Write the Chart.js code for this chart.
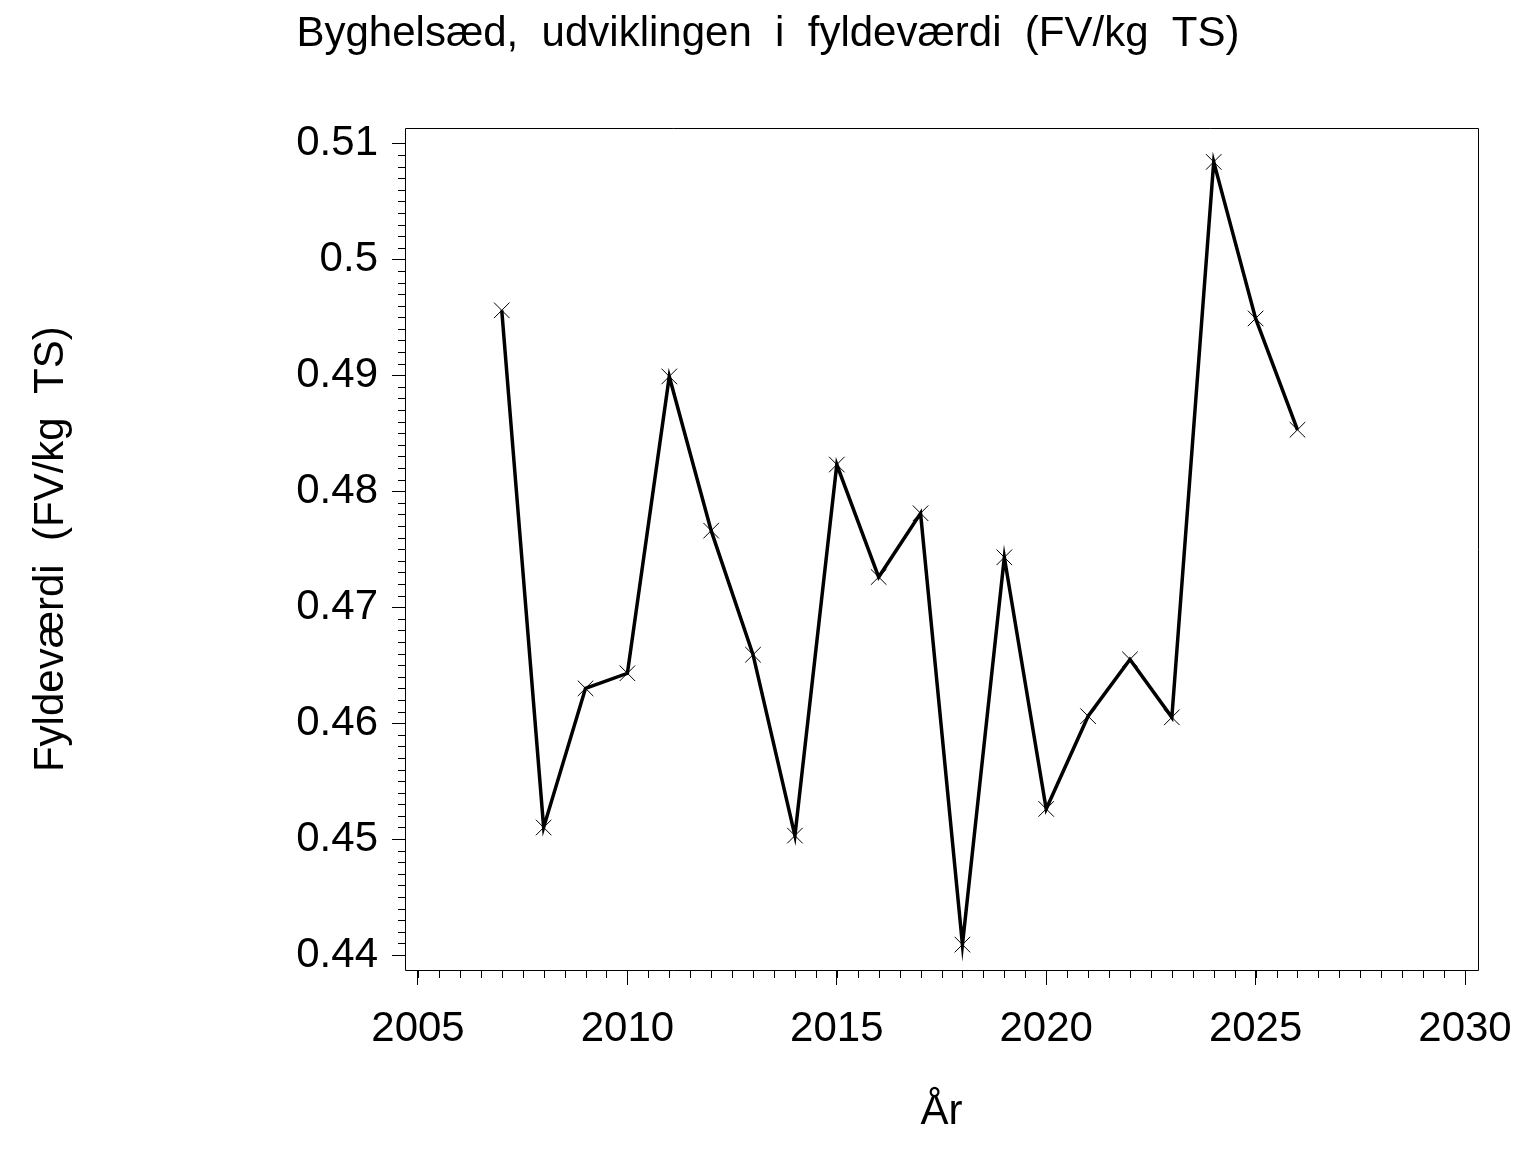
<!DOCTYPE html>
<html>
<head>
<meta charset="utf-8">
<title>Byghelsæd, udviklingen i fyldeværdi</title>
<script src="https://cdn.jsdelivr.net/npm/chart.js@4.4.0/dist/chart.umd.min.js"></script>
<style>
  html, body { margin: 0; padding: 0; background: #fff; }
  #chart { display: block; width: 1536px; height: 1152px; }
</style>
</head>
<body>
<canvas id="chart" width="1536" height="1152"></canvas>
<script>
// values
const years = [2007, 2008, 2009, 2010, 2011, 2012, 2013, 2014, 2015, 2016,
               2017, 2018, 2019, 2020, 2021, 2022, 2023, 2024, 2025, 2026];
const fyldevaerdi = [0.4956, 0.4510, 0.4630, 0.4643, 0.4899, 0.4766, 0.4659, 0.4503, 0.4823, 0.4726,
                     0.4781, 0.4409, 0.4743, 0.4526, 0.4606, 0.4655, 0.4605, 0.5084, 0.4949, 0.4853];

const xTicks = [2005, 2010, 2015, 2020, 2025, 2030];
const yTicks = [0.44, 0.45, 0.46, 0.47, 0.48, 0.49, 0.5, 0.51];
const xMinorStep = 0.5;
const yMinorStep = 0.001;

const titleText = "Byghelsæd,  udviklingen  i  fyldeværdi  (FV/kg  TS)";
const xTitle = "År";
const yTitle = "Fyldeværdi  (FV/kg  TS)";

Chart.defaults.font.family = "'Liberation Sans', Arial, sans-serif";
Chart.defaults.color = "#000";

// frame round the plot area and the short minor tick marks
const frameAndMinorTicks = {
  id: "frameAndMinorTicks",
  afterDraw(chart) {
    const { ctx, chartArea, scales } = chart;
    const px = v => Math.round(v) + 0.5;
    ctx.save();
    ctx.strokeStyle = "#000";
    ctx.lineWidth = 1;
    ctx.beginPath();
    ctx.rect(px(chartArea.left), px(chartArea.top),
             Math.round(chartArea.right - chartArea.left), Math.round(chartArea.bottom - chartArea.top));

    const xFirst = xTicks[0], xLast = xTicks[xTicks.length - 1];
    const nx = Math.round((xLast - xFirst) / xMinorStep);
    for (let i = 0; i <= nx; i++) {
      const x = px(scales.x.getPixelForValue(xFirst + i * xMinorStep));
      ctx.moveTo(x, chartArea.bottom);
      ctx.lineTo(x, chartArea.bottom + 8);
    }

    const yFirst = yTicks[0], yLast = yTicks[yTicks.length - 1];
    const ny = Math.round((yLast - yFirst) / yMinorStep);
    for (let i = 0; i <= ny; i++) {
      const y = px(scales.y.getPixelForValue(yFirst + i * yMinorStep));
      ctx.moveTo(chartArea.left, y);
      ctx.lineTo(chartArea.left - 7, y);
    }
    ctx.stroke();
    ctx.restore();
  }
};

new Chart(document.getElementById("chart").getContext("2d"), {
  type: "line",
  data: {
    datasets: [{
      label: "Fyldeværdi",
      data: years.map((yr, i) => ({ x: yr, y: fyldevaerdi[i] })),
      borderColor: "#000",
      backgroundColor: "#000",
      borderWidth: 3.5,
      tension: 0,
      pointStyle: "crossRot",
      pointRadius: 11,
      pointBorderWidth: 1,
      pointBorderColor: "#000"
    }]
  },
  options: {
    responsive: false,
    devicePixelRatio: 1,
    animation: false,
    events: [],
    layout: { padding: 0 },
    scales: {
      x: {
        type: "linear",
        min: 2004.6896,
        max: 2030.3104,
        afterBuildTicks: scale => { scale.ticks = xTicks.map(v => ({ value: v })); },
        afterFit: scale => { scale.height = 182; scale.paddingRight = 58; },
        border: { display: false },
        grid: { drawOnChartArea: false, tickLength: 15, tickColor: "#000", tickWidth: 1 },
        ticks: {
          padding: 19,
          maxRotation: 0,
          font: { size: 42 },
          callback: v => String(v)
        },
        title: {
          display: true,
          text: xTitle,
          font: { size: 42 },
          padding: { top: 0, bottom: 14 }
        }
      },
      y: {
        type: "linear",
        min: 0.43871,
        max: 0.51129,
        afterBuildTicks: scale => { scale.ticks = yTicks.map(v => ({ value: v })); },
        afterFit: scale => { scale.width = 405; },
        border: { display: false },
        grid: { drawOnChartArea: false, tickLength: 13, tickColor: "#000", tickWidth: 1 },
        ticks: {
          padding: 14,
          font: { size: 42 },
          callback: v => String(v)
        },
        title: {
          display: true,
          text: yTitle,
          font: { size: 42 },
          padding: { top: 26, bottom: 0 }
        }
      }
    },
    plugins: {
      legend: { display: false },
      tooltip: { enabled: false },
      title: {
        display: true,
        text: titleText,
        font: { size: 42, weight: "normal" },
        color: "#000",
        padding: { top: 9, bottom: 69 }
      }
    }
  },
  plugins: [frameAndMinorTicks]
});
</script>
</body>
</html>
